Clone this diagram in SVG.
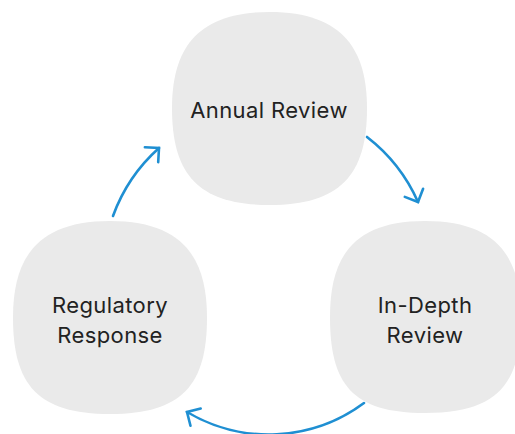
<svg xmlns="http://www.w3.org/2000/svg" width="515" height="434" viewBox="0 0 515 434">
<style>
.node{fill:#eaeaea;stroke:none}
.lbl{font-family:Inter,"Noto Sans","Liberation Sans",sans-serif;font-size:22px;font-weight:400;letter-spacing:0.4px;fill:#222222;text-anchor:middle}
.conn{fill:none;stroke:#1f8fd2;stroke-width:2.6;stroke-linecap:round;marker-end:url(#arr)}
</style>
<defs>
<marker id="arr" markerUnits="userSpaceOnUse" viewBox="-12 -12 16 24" refX="0" refY="0" markerWidth="16" markerHeight="24" orient="auto" overflow="visible">
<path d="M-10,-10 L0,0 L-10,10" fill="none" stroke="#1f8fd2" stroke-width="2.6" stroke-linecap="round" stroke-linejoin="miter"/>
</marker>
</defs>
<g id="connectors">
<path class="conn" d="M367,137 A168,168 0 0 1 418,202"/>
<path class="conn" d="M364,403 A160,160 0 0 1 187,412"/>
<path class="conn" d="M113,216 A168,168 0 0 1 159,148"/>
</g>
<g id="annual-review">
<path class="node" d="M269.5,12 C345,12 367,52 367,108.5 C367,175 340,205 269.5,205 C199,205 172,175 172,108.5 C172,52 194,12 269.5,12 Z"/>
<text class="lbl" x="269" y="118">Annual Review</text>
</g>
<g id="regulatory-response">
<path class="node" d="M110,221 C182,221 207,257 207,317.5 C207,384 183,414 110,414 C37,414 13,384 13,317.5 C13,257 38,221 110,221 Z"/>
<text class="lbl" x="110" y="313">Regulatory</text>
<text class="lbl" x="110" y="343">Response</text>
</g>
<g id="in-depth-review">
<path class="node" d="M425,221 C497,221 521,257 521,317 C521,384 498,413 425,413 C352,413 330,384 330,317 C330,257 353,221 425,221 Z"/>
<text class="lbl" x="425" y="313">In-Depth</text>
<text class="lbl" x="425" y="343">Review</text>
</g>
</svg>
